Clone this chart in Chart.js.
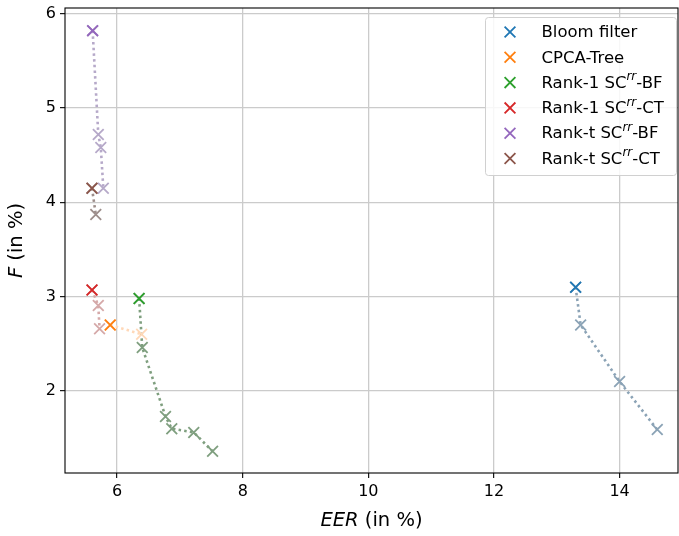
<!DOCTYPE html>
<html>
<head>
<meta charset="utf-8">
<script src="https://cdn.jsdelivr.net/npm/chart.js@4"></script>
<style>
html,body{margin:0;padding:0;background:#fff;}
#c{display:block;}
</style>
</head>
<body>
<canvas id="c" width="679" height="536"></canvas>
<script>
// ---- data ----
const xTicks = [6, 8, 10, 12, 14];
const yTicks = [2, 3, 4, 5, 6];
const xTitle = ['EER', ' (in %)'];
const yTitle = ['F', ' (in %)'];
const seriesNames = ['Bloom filter', 'CPCA-Tree', 'Rank-1 SC^rr-BF', 'Rank-1 SC^rr-CT', 'Rank-t SC^rr-BF', 'Rank-t SC^rr-CT'];

const bloomEER = [13.30, 13.38, 14.00, 14.60];
const bloomF   = [3.10, 2.70, 2.10, 1.59];
const cpcaEER  = [5.89, 6.39];
const cpcaF    = [2.70, 2.60];
const r1bfEER  = [6.35, 6.40, 6.77, 6.87, 7.22, 7.52];
const r1bfF    = [2.98, 2.46, 1.73, 1.60, 1.56, 1.36];
const r1ctEER  = [5.60, 5.70, 5.72];
const r1ctF    = [3.07, 2.905, 2.66];
const rtbfEER  = [5.61, 5.70, 5.74, 5.78];
const rtbfF    = [5.82, 4.72, 4.58, 4.15];
const rtctEER  = [5.60, 5.66];
const rtctF    = [4.15, 3.87];

const mainColors  = ['#1f77b4', '#ff7f0e', '#2ca02c', '#d62728', '#9467bd', '#8c564b'];
const fadedColors = ['#8ba3b6', '#ffd8b8', '#7f9f7f', '#d5a9a9', '#b6a9c9', '#9d8e8b'];

const seriesX = [bloomEER, cpcaEER, r1bfEER, r1ctEER, rtbfEER, rtctEER];
const seriesY = [bloomF, cpcaF, r1bfF, r1ctF, rtbfF, rtctF];

const FONT = '"DejaVu Sans", sans-serif';
const toPts = (xs, ys) => xs.map((x, i) => ({x: x, y: ys[i]}));

const datasets = [];
seriesNames.forEach((name, i) => {
  datasets.push({
    label: name,
    data: toPts(seriesX[i].slice(0, 1), seriesY[i].slice(0, 1)),
    showLine: false,
    pointStyle: 'crossRot',
    pointRadius: 7.6,
    pointBorderWidth: 1.8,
    borderColor: mainColors[i],
    backgroundColor: mainColors[i],
    order: 0,
    isMain: true
  });
});
seriesNames.forEach((name, i) => {
  datasets.push({
    label: name + ' (trend)',
    data: toPts(seriesX[i], seriesY[i]),
    showLine: true,
    borderDash: [2.5, 3.2],
    borderWidth: 2.6,
    borderColor: fadedColors[i],
    backgroundColor: fadedColors[i],
    pointStyle: 'crossRot',
    pointRadius: 7.6,
    pointBorderWidth: 1.8,
    pointBorderColor: fadedColors[i],
    order: 1,
    isMain: false
  });
});

function drawRich(ctx, parts, x, y, align) {
  let total = 0;
  parts.forEach(p => { ctx.font = p.font; total += ctx.measureText(p.t).width; });
  let cx = align === 'center' ? x - total / 2 : x;
  ctx.textAlign = 'left';
  parts.forEach(p => {
    ctx.font = p.font;
    ctx.fillText(p.t, cx, y + (p.dy || 0));
    cx += ctx.measureText(p.t).width;
  });
}
function labelParts(label, size) {
  const m = label.split('^rr');
  if (m.length === 1) return [{t: label, font: size + 'px ' + FONT}];
  return [
    {t: m[0], font: size + 'px ' + FONT},
    {t: 'rr', font: 'italic ' + Math.round(size * 0.7) + 'px ' + FONT, dy: -size * 0.38},
    {t: m[1], font: size + 'px ' + FONT}
  ];
}

const decor = {
  id: 'decor',
  afterDatasetsDraw(chart) {
    const ctx = chart.ctx, a = chart.chartArea;
    ctx.save();
    ctx.strokeStyle = '#000';
    ctx.lineWidth = 1.1;
    ctx.strokeRect(a.left, a.top, a.right - a.left, a.bottom - a.top);
    ctx.restore();
  },
  afterDraw(chart) {
    const ctx = chart.ctx, a = chart.chartArea;
    ctx.save();
    const bx = 485.5, by = 17.5, bw = 191, bh = 158;
    ctx.beginPath();
    ctx.roundRect(bx, by, bw, bh, 3);
    ctx.fillStyle = 'rgba(255,255,255,0.85)';
    ctx.fill();
    ctx.strokeStyle = '#d0d0d0';
    ctx.lineWidth = 1;
    ctx.stroke();
    const mains = chart.data.datasets.filter(d => d.isMain);
    ctx.textBaseline = 'middle';
    mains.forEach((d, i) => {
      const yy = 32 + i * 25.3;
      ctx.strokeStyle = d.borderColor;
      ctx.lineWidth = 1.8;
      const h = 5.4;
      ctx.beginPath();
      ctx.moveTo(510 - h, yy - h); ctx.lineTo(510 + h, yy + h);
      ctx.moveTo(510 - h, yy + h); ctx.lineTo(510 + h, yy - h);
      ctx.stroke();
      ctx.fillStyle = '#000';
      drawRich(ctx, labelParts(d.label, 16.5), 541.5, yy + 1, 'left');
    });
    ctx.fillStyle = '#000';
    ctx.textBaseline = 'middle';
    drawRich(ctx, [
      {t: xTitle[0], font: 'italic 19.5px ' + FONT},
      {t: xTitle[1], font: '19.5px ' + FONT}
    ], (a.left + a.right) / 2, 521, 'center');
    ctx.translate(16.5, (a.top + a.bottom) / 2);
    ctx.rotate(-Math.PI / 2);
    drawRich(ctx, [
      {t: yTitle[0], font: 'italic 19.5px ' + FONT},
      {t: yTitle[1], font: '19.5px ' + FONT}
    ], 0, 0, 'center');
    ctx.restore();
  }
};

const noPad = s => { s.paddingLeft = 0; s.paddingRight = 0; s.paddingTop = 0; s.paddingBottom = 0; };

new Chart(document.getElementById('c'), {
  type: 'scatter',
  data: {datasets: datasets},
  options: {
    responsive: false,
    animation: false,
    devicePixelRatio: 1,
    layout: {autoPadding: false, padding: {top: 8, right: 1, left: 0, bottom: 0}},
    plugins: {legend: {display: false}, tooltip: {enabled: false}},
    scales: {
      x: {
        type: 'linear',
        min: 5.17, max: 14.93,
        afterBuildTicks: s => { s.ticks = xTicks.map(v => ({value: v})); },
        afterFit: s => { s.height = 63; noPad(s); },
        grid: {color: '#cbcbcb', lineWidth: 1.3, drawTicks: true, tickLength: 5, tickColor: '#000', tickWidth: 1.1},
        border: {display: false},
        ticks: {color: '#000', font: {family: FONT, size: 16}, padding: 4, maxRotation: 0}
      },
      y: {
        type: 'linear',
        min: 1.13, max: 6.06,
        afterBuildTicks: s => { s.ticks = yTicks.map(v => ({value: v})); },
        afterFit: s => { s.width = 65; noPad(s); },
        grid: {color: '#cbcbcb', lineWidth: 1.3, drawTicks: true, tickLength: 5, tickColor: '#000', tickWidth: 1.1},
        border: {display: false},
        ticks: {color: '#000', font: {family: FONT, size: 16}, padding: 4}
      }
    }
  },
  plugins: [decor]
});
</script>
</body>
</html>
